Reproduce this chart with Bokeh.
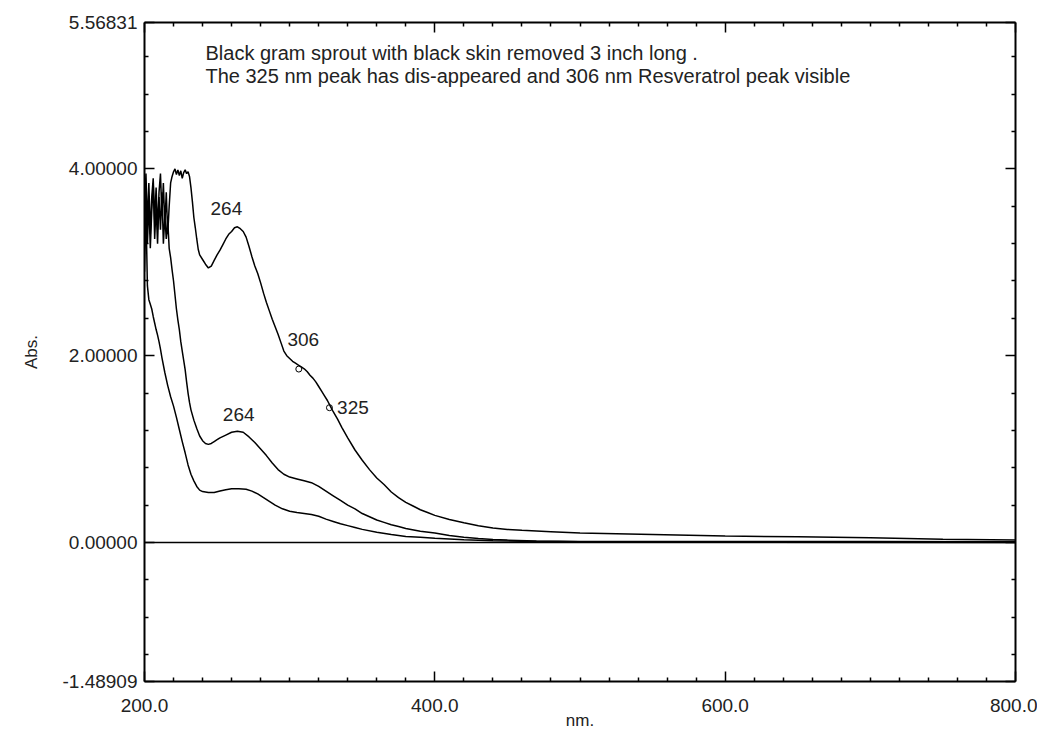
from bokeh.plotting import figure
from bokeh.models import (LinearAxis, FixedTicker, PrintfTickFormatter, Span,
                          Range1d, CustomJSTickFormatter)
from bokeh.core.properties import value
from bokeh.embed import file_html
from bokeh.resources import INLINE

FONT = "Liberation Sans"

# ---------------- data ----------------
top_x = [200, 201, 202, 203, 204, 205, 206, 207, 208, 209, 210, 211, 212, 213, 214, 215,
         216, 217, 218, 219, 220, 221, 222, 223, 224, 225, 226, 227, 228, 229, 230, 231,
         232, 233, 234, 235, 236, 237, 238, 240, 242, 244, 246, 248, 250, 252, 254, 256,
         258, 260, 262, 264, 266, 268, 270, 272, 274, 276, 278, 280, 282, 284, 286, 288,
         290, 292, 294, 296, 298, 300, 302, 304, 306, 308, 310, 312, 314, 316, 318, 320,
         322, 324, 326, 328, 330, 333, 336, 340, 345, 350, 355, 360, 365, 370, 375, 380,
         385, 390, 395, 400, 410, 420, 430, 440, 450, 460, 480, 500, 550, 600, 650, 700,
         750, 800]
top_y = [3.55, 3.95, 3.40, 3.85, 3.30, 3.70, 3.90, 3.45, 3.80, 3.35, 3.75, 3.95, 3.50, 3.85,
         3.40, 3.75, 3.30, 3.60, 3.85, 3.92, 3.97, 4.00, 3.94, 3.99, 3.93, 3.98, 3.90, 3.96,
         3.99, 3.95, 3.97, 3.92, 3.80, 3.65, 3.48, 3.37, 3.25, 3.14, 3.08, 3.03, 2.98, 2.94,
         2.96, 3.02, 3.08, 3.13, 3.19, 3.25, 3.30, 3.33, 3.37, 3.38, 3.36, 3.33, 3.27, 3.17,
         3.06, 2.96, 2.88, 2.78, 2.67, 2.57, 2.48, 2.39, 2.31, 2.23, 2.14, 2.05, 2.00, 1.97,
         1.94, 1.92, 1.90, 1.88, 1.86, 1.83, 1.79, 1.76, 1.72, 1.67, 1.62, 1.57, 1.52, 1.46,
         1.40, 1.32, 1.23, 1.12, 0.99, 0.88, 0.78, 0.69, 0.62, 0.54, 0.48, 0.43, 0.39, 0.35,
         0.32, 0.29, 0.245, 0.21, 0.18, 0.155, 0.14, 0.13, 0.115, 0.10, 0.085, 0.07, 0.06,
         0.05, 0.035, 0.025]

mid_x = [200, 201, 202, 203, 204, 205, 206, 207, 208, 209, 210, 211, 212, 213, 214, 215,
         216, 217, 218, 219, 220, 221, 222, 223, 224, 225, 226, 227, 228, 229, 230, 231,
         232, 234, 236, 238, 240, 242, 244, 246, 248, 250, 252, 256, 260, 264, 268, 272,
         276, 280, 284, 288, 292, 296, 300, 305, 310, 315, 320, 325, 330, 335, 340, 345,
         350, 355, 360, 365, 370, 375, 380, 390, 400, 410, 420, 430, 440, 450, 470, 500,
         600, 700, 800]
mid_y = [3.40, 3.80, 3.20, 3.65, 3.15, 3.55, 3.85, 3.25, 3.60, 3.20, 3.70, 3.35, 3.75, 3.20,
         3.50, 3.25, 3.45, 3.15, 3.05, 2.92, 2.80, 2.65, 2.50, 2.38, 2.28, 2.15, 2.05, 1.95,
         1.85, 1.72, 1.60, 1.50, 1.42, 1.31, 1.22, 1.14, 1.09, 1.06, 1.05, 1.06, 1.08, 1.10,
         1.12, 1.15, 1.18, 1.19, 1.18, 1.13, 1.07, 1.00, 0.93, 0.85, 0.78, 0.73, 0.70, 0.68,
         0.66, 0.64, 0.60, 0.55, 0.50, 0.45, 0.40, 0.36, 0.31, 0.275, 0.24, 0.215, 0.19, 0.17,
         0.15, 0.12, 0.10, 0.075, 0.055, 0.042, 0.032, 0.025, 0.015, 0.01, 0.01, 0.01, 0.008]

low_x = [200, 201, 202, 203, 204, 205, 206, 207, 208, 209, 210, 211, 212, 214, 216, 218,
         220, 222, 224, 226, 228, 230, 232, 234, 236, 238, 240, 244, 248, 252, 256, 260,
         265, 270, 274, 278, 282, 286, 290, 295, 300, 305, 310, 315, 320, 325, 330, 335,
         340, 345, 350, 360, 370, 380, 390, 400, 420, 440, 460, 500, 600, 800]
low_y = [2.90, 3.55, 2.75, 2.60, 2.55, 2.50, 2.42, 2.35, 2.28, 2.22, 2.15, 2.07, 1.98, 1.82,
         1.68, 1.56, 1.46, 1.34, 1.21, 1.08, 0.96, 0.83, 0.73, 0.66, 0.60, 0.56, 0.545, 0.535,
         0.535, 0.55, 0.565, 0.575, 0.575, 0.57, 0.55, 0.52, 0.48, 0.44, 0.40, 0.36, 0.335,
         0.32, 0.31, 0.30, 0.28, 0.25, 0.225, 0.20, 0.18, 0.16, 0.14, 0.11, 0.085, 0.065,
         0.055, 0.045, 0.028, 0.018, 0.012, 0.008, 0.004, 0.0]

peak_labels = ["264", "306", "325", "264"]
peak_label_x = [256.4, 309.4, 343.6, 264.9]
peak_label_y = [3.577, 2.174, 1.443, 1.368]
pick_x = [306.3, 327.4]
pick_y = [1.857, 1.443]

note_lines = ["Black gram  sprout  with black skin removed 3 inch long .",
              "The 325 nm peak has dis-appeared and 306 nm Resveratrol peak visible"]
note_x = [242.0, 242.0]
note_y = [5.247, 5.000]

x_ticks = [200, 400, 600, 800]
y_ticks = [-1.48909, 0.0, 2.0, 4.0, 5.56831]
x_min, x_max = 200, 800
y_min, y_max = -1.48909, 5.56831

# ---------------- figure ----------------
p = figure(width=1037, height=737, output_backend="svg", toolbar_location=None,
           x_range=Range1d(x_min, x_max), y_range=Range1d(y_min, y_max),
           x_axis_location=None, y_axis_location=None,
           min_border_left=144, min_border_right=22, min_border_top=22,
           min_border_bottom=56)
p.grid.visible = False
p.outline_line_color = None
p.background_fill_color = "white"
p.border_fill_color = "white"

x_minor = [v for v in range(200, 801, 20) if v % 200 != 0]
y_minor = [round(-1.2 + 0.4 * i, 1) for i in range(17)]
y_minor = [v for v in y_minor if abs(v % 2.0) > 1e-6 and abs(v % 2.0 - 2.0) > 1e-6]

def style_axis(ax, labels=True):
    ax.axis_line_color = "black"
    ax.axis_line_width = 2
    ax.major_tick_line_color = "black"
    ax.minor_tick_line_color = "black"
    ax.major_tick_line_width = 1.5
    ax.minor_tick_line_width = 1.5
    ax.major_tick_in = 10
    ax.major_tick_out = 0
    ax.minor_tick_in = 4
    ax.minor_tick_out = 0
    ax.major_label_text_font = FONT
    ax.major_label_text_color = "#222222"
    ax.major_label_text_font_size = "19px"
    ax.axis_label_text_font = FONT
    ax.axis_label_text_font_style = "normal"
    ax.axis_label_text_color = "#222222"
    ax.axis_label_text_font_size = "17px"
    if not labels:
        ax.major_label_standoff = 0

xt = FixedTicker(ticks=x_ticks, minor_ticks=x_minor)
yt = FixedTicker(ticks=y_ticks, minor_ticks=y_minor)

bottom = LinearAxis(ticker=xt, formatter=PrintfTickFormatter(format="%.1f"), axis_label="nm.")
style_axis(bottom)
bottom.major_label_standoff = 17
bottom.axis_label_standoff = -4
p.add_layout(bottom, "below")

left = LinearAxis(ticker=yt, formatter=PrintfTickFormatter(format="%.5f"), axis_label="Abs.")
style_axis(left)
left.major_label_standoff = 7
left.axis_label_standoff = 18
p.add_layout(left, "left")

blank = "return '';"
top = LinearAxis(ticker=FixedTicker(ticks=x_ticks, minor_ticks=x_minor),
                 formatter=CustomJSTickFormatter(code=blank))
style_axis(top, labels=False)
p.add_layout(top, "above")

right = LinearAxis(ticker=FixedTicker(ticks=y_ticks, minor_ticks=y_minor),
                   formatter=CustomJSTickFormatter(code=blank))
style_axis(right, labels=False)
p.add_layout(right, "right")

p.add_layout(Span(location=0, dimension="width", line_color="black", line_width=1.5))

for xs, ys in [(low_x, low_y), (mid_x, mid_y), (top_x, top_y)]:
    p.line(xs, ys, line_color="black", line_width=1.5)

p.scatter(pick_x, pick_y, marker="circle", size=6, fill_color=None,
          line_color="black", line_width=1)

p.text(x=peak_label_x, y=peak_label_y, text=peak_labels, text_font=value(FONT),
       text_font_size="19px", text_align="center", text_baseline="middle",
       text_color="#222222")
p.text(x=note_x, y=note_y, text=note_lines, text_font=value(FONT),
       text_font_size="20px", text_align="left", text_baseline="middle",
       text_color="#222222")

open("out.html", "w").write(file_html(p, INLINE))
